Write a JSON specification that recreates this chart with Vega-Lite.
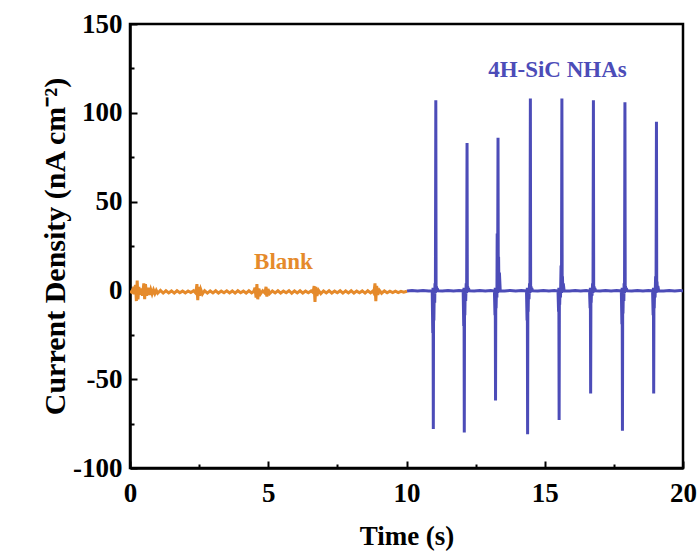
{
  "$schema": "https://vega.github.io/schema/vega-lite/v6.json",
  "width": 553,
  "height": 444,
  "autosize": {"type": "none"},
  "padding": {"left": 130, "top": 24, "right": 16, "bottom": 88},
  "background": "white",
  "config": {
    "view": {"stroke": "black", "strokeWidth": 2.5},
    "font": "Liberation Serif",
    "axis": {
      "labelFont": "Liberation Serif",
      "labelFontWeight": "bold",
      "labelFontSize": 27,
      "labelColor": "black",
      "titleFont": "Liberation Serif",
      "titleFontWeight": "bold",
      "titleFontSize": 27,
      "titleColor": "black",
      "tickColor": "black",
      "tickWidth": 2,
      "domainColor": "black",
      "domainWidth": 2.5,
      "grid": false,
      "labelFlush": false,
      "labelOverlap": false
    }
  },
  "datasets": {
    "lines": [
      {"t": 0.00, "v": -0.5, "s": "Blank"},
      {"t": 0.05, "v": -1, "s": "Blank"},
      {"t": 0.10, "v": 0.5, "s": "Blank"},
      {"t": 0.15, "v": -2, "s": "Blank"},
      {"t": 0.20, "v": 3, "s": "Blank"},
      {"t": 0.23, "v": -6, "s": "Blank"},
      {"t": 0.26, "v": 5.5, "s": "Blank"},
      {"t": 0.29, "v": -5, "s": "Blank"},
      {"t": 0.32, "v": 2, "s": "Blank"},
      {"t": 0.36, "v": -2.5, "s": "Blank"},
      {"t": 0.40, "v": 1, "s": "Blank"},
      {"t": 0.45, "v": -3, "s": "Blank"},
      {"t": 0.50, "v": 4, "s": "Blank"},
      {"t": 0.53, "v": -5, "s": "Blank"},
      {"t": 0.56, "v": 3.5, "s": "Blank"},
      {"t": 0.60, "v": -3, "s": "Blank"},
      {"t": 0.65, "v": 1.5, "s": "Blank"},
      {"t": 0.70, "v": -2.5, "s": "Blank"},
      {"t": 0.75, "v": 0.5, "s": "Blank"},
      {"t": 0.80, "v": -2, "s": "Blank"},
      {"t": 0.85, "v": 0.3, "s": "Blank"},
      {"t": 0.90, "v": -1.8, "s": "Blank"},
      {"t": 0.95, "v": 0, "s": "Blank"},
      {"t": 1.00, "v": -1.6, "s": "Blank"},
      {"t": 1.10, "v": 0, "s": "Blank"},
      {"t": 1.20, "v": -1.5, "s": "Blank"},
      {"t": 1.30, "v": -0.2, "s": "Blank"},
      {"t": 1.40, "v": -1.4, "s": "Blank"},
      {"t": 1.50, "v": -0.3, "s": "Blank"},
      {"t": 1.60, "v": -1.5, "s": "Blank"},
      {"t": 1.70, "v": -0.2, "s": "Blank"},
      {"t": 1.80, "v": -1.3, "s": "Blank"},
      {"t": 1.90, "v": -0.4, "s": "Blank"},
      {"t": 2.00, "v": -1.4, "s": "Blank"},
      {"t": 2.10, "v": -0.3, "s": "Blank"},
      {"t": 2.20, "v": -1.2, "s": "Blank"},
      {"t": 2.30, "v": -0.2, "s": "Blank"},
      {"t": 2.38, "v": -1.5, "s": "Blank"},
      {"t": 2.42, "v": 3.5, "s": "Blank"},
      {"t": 2.45, "v": -5.5, "s": "Blank"},
      {"t": 2.48, "v": 2, "s": "Blank"},
      {"t": 2.52, "v": -3, "s": "Blank"},
      {"t": 2.56, "v": 0.5, "s": "Blank"},
      {"t": 2.62, "v": -2, "s": "Blank"},
      {"t": 2.70, "v": -0.2, "s": "Blank"},
      {"t": 2.80, "v": -1.5, "s": "Blank"},
      {"t": 2.90, "v": -0.3, "s": "Blank"},
      {"t": 3.00, "v": -1.4, "s": "Blank"},
      {"t": 3.10, "v": -0.2, "s": "Blank"},
      {"t": 3.20, "v": -1.5, "s": "Blank"},
      {"t": 3.30, "v": -0.4, "s": "Blank"},
      {"t": 3.40, "v": -1.3, "s": "Blank"},
      {"t": 3.50, "v": -0.2, "s": "Blank"},
      {"t": 3.60, "v": -1.4, "s": "Blank"},
      {"t": 3.70, "v": -0.3, "s": "Blank"},
      {"t": 3.80, "v": -1.5, "s": "Blank"},
      {"t": 3.90, "v": -0.2, "s": "Blank"},
      {"t": 4.00, "v": -1.3, "s": "Blank"},
      {"t": 4.10, "v": -0.4, "s": "Blank"},
      {"t": 4.20, "v": -1.5, "s": "Blank"},
      {"t": 4.30, "v": -0.2, "s": "Blank"},
      {"t": 4.40, "v": -1.4, "s": "Blank"},
      {"t": 4.48, "v": -0.5, "s": "Blank"},
      {"t": 4.52, "v": 1.5, "s": "Blank"},
      {"t": 4.56, "v": -4, "s": "Blank"},
      {"t": 4.59, "v": 3.5, "s": "Blank"},
      {"t": 4.62, "v": -5, "s": "Blank"},
      {"t": 4.66, "v": 1, "s": "Blank"},
      {"t": 4.72, "v": -2, "s": "Blank"},
      {"t": 4.80, "v": -0.2, "s": "Blank"},
      {"t": 4.88, "v": -1.5, "s": "Blank"},
      {"t": 4.92, "v": 2, "s": "Blank"},
      {"t": 4.95, "v": -3.5, "s": "Blank"},
      {"t": 4.99, "v": 0.8, "s": "Blank"},
      {"t": 5.05, "v": -1.8, "s": "Blank"},
      {"t": 5.15, "v": -0.3, "s": "Blank"},
      {"t": 5.25, "v": -1.4, "s": "Blank"},
      {"t": 5.35, "v": -0.2, "s": "Blank"},
      {"t": 5.45, "v": -1.5, "s": "Blank"},
      {"t": 5.55, "v": -0.4, "s": "Blank"},
      {"t": 5.65, "v": -1.3, "s": "Blank"},
      {"t": 5.75, "v": -0.2, "s": "Blank"},
      {"t": 5.85, "v": -1.6, "s": "Blank"},
      {"t": 5.95, "v": -0.3, "s": "Blank"},
      {"t": 6.05, "v": -1.4, "s": "Blank"},
      {"t": 6.15, "v": -0.2, "s": "Blank"},
      {"t": 6.25, "v": -1.5, "s": "Blank"},
      {"t": 6.35, "v": -0.4, "s": "Blank"},
      {"t": 6.45, "v": -1.3, "s": "Blank"},
      {"t": 6.55, "v": -0.3, "s": "Blank"},
      {"t": 6.62, "v": -1.2, "s": "Blank"},
      {"t": 6.66, "v": 2.5, "s": "Blank"},
      {"t": 6.69, "v": -6.5, "s": "Blank"},
      {"t": 6.72, "v": 2, "s": "Blank"},
      {"t": 6.76, "v": -3, "s": "Blank"},
      {"t": 6.82, "v": 0, "s": "Blank"},
      {"t": 6.90, "v": -1.8, "s": "Blank"},
      {"t": 7.00, "v": -0.3, "s": "Blank"},
      {"t": 7.10, "v": -1.4, "s": "Blank"},
      {"t": 7.20, "v": -0.2, "s": "Blank"},
      {"t": 7.30, "v": -1.5, "s": "Blank"},
      {"t": 7.40, "v": -0.4, "s": "Blank"},
      {"t": 7.50, "v": -1.3, "s": "Blank"},
      {"t": 7.60, "v": -0.2, "s": "Blank"},
      {"t": 7.70, "v": -1.5, "s": "Blank"},
      {"t": 7.80, "v": -0.3, "s": "Blank"},
      {"t": 7.90, "v": -1.4, "s": "Blank"},
      {"t": 8.00, "v": -0.2, "s": "Blank"},
      {"t": 8.10, "v": -1.5, "s": "Blank"},
      {"t": 8.20, "v": -0.4, "s": "Blank"},
      {"t": 8.30, "v": -1.3, "s": "Blank"},
      {"t": 8.40, "v": -0.3, "s": "Blank"},
      {"t": 8.50, "v": -1.5, "s": "Blank"},
      {"t": 8.60, "v": -0.2, "s": "Blank"},
      {"t": 8.70, "v": -1.4, "s": "Blank"},
      {"t": 8.78, "v": -0.4, "s": "Blank"},
      {"t": 8.82, "v": -1.5, "s": "Blank"},
      {"t": 8.86, "v": 4, "s": "Blank"},
      {"t": 8.89, "v": -6, "s": "Blank"},
      {"t": 8.92, "v": 2.5, "s": "Blank"},
      {"t": 8.96, "v": -2.5, "s": "Blank"},
      {"t": 9.02, "v": 0, "s": "Blank"},
      {"t": 9.10, "v": -1.6, "s": "Blank"},
      {"t": 9.20, "v": -0.3, "s": "Blank"},
      {"t": 9.30, "v": -1.3, "s": "Blank"},
      {"t": 9.40, "v": -0.4, "s": "Blank"},
      {"t": 9.50, "v": -1.2, "s": "Blank"},
      {"t": 9.60, "v": -0.4, "s": "Blank"},
      {"t": 9.70, "v": -1.2, "s": "Blank"},
      {"t": 9.80, "v": -0.5, "s": "Blank"},
      {"t": 9.90, "v": -1.0, "s": "Blank"},
      {"t": 10.02, "v": -0.5, "s": "Blank"},

      {"t": 10.02, "v": -0.3, "s": "4H-SiC NHAs"},
      {"t": 10.2, "v": 0, "s": "4H-SiC NHAs"},
      {"t": 10.4, "v": -0.4, "s": "4H-SiC NHAs"},
      {"t": 10.6, "v": 0, "s": "4H-SiC NHAs"},
      {"t": 10.8, "v": -0.3, "s": "4H-SiC NHAs"},
      {"t": 10.93, "v": -0.3, "s": "4H-SiC NHAs"},
      {"t": 10.95, "v": -24, "s": "4H-SiC NHAs"},
      {"t": 10.96, "v": 1.5, "s": "4H-SiC NHAs"},
      {"t": 10.97, "v": -78, "s": "4H-SiC NHAs"},
      {"t": 10.98, "v": 1, "s": "4H-SiC NHAs"},
      {"t": 10.99, "v": -17, "s": "4H-SiC NHAs"},
      {"t": 11.005, "v": 1.5, "s": "4H-SiC NHAs"},
      {"t": 11.02, "v": -7, "s": "4H-SiC NHAs"},
      {"t": 11.03, "v": 4, "s": "4H-SiC NHAs"},
      {"t": 11.045, "v": -1.5, "s": "4H-SiC NHAs"},
      {"t": 11.06, "v": 107, "s": "4H-SiC NHAs"},
      {"t": 11.07, "v": -1, "s": "4H-SiC NHAs"},
      {"t": 11.08, "v": 2.4, "s": "4H-SiC NHAs"},
      {"t": 11.095, "v": -1, "s": "4H-SiC NHAs"},
      {"t": 11.11, "v": 1.2, "s": "4H-SiC NHAs"},
      {"t": 11.14, "v": -0.2, "s": "4H-SiC NHAs"},
      {"t": 11.3, "v": -0.3, "s": "4H-SiC NHAs"},
      {"t": 11.5, "v": 0, "s": "4H-SiC NHAs"},
      {"t": 11.7, "v": -0.4, "s": "4H-SiC NHAs"},
      {"t": 11.9, "v": 0, "s": "4H-SiC NHAs"},
      {"t": 12.05, "v": -0.3, "s": "4H-SiC NHAs"},
      {"t": 12.07, "v": -20, "s": "4H-SiC NHAs"},
      {"t": 12.08, "v": 1.5, "s": "4H-SiC NHAs"},
      {"t": 12.09, "v": -80, "s": "4H-SiC NHAs"},
      {"t": 12.10, "v": 1, "s": "4H-SiC NHAs"},
      {"t": 12.11, "v": -14, "s": "4H-SiC NHAs"},
      {"t": 12.125, "v": 1.5, "s": "4H-SiC NHAs"},
      {"t": 12.14, "v": -6, "s": "4H-SiC NHAs"},
      {"t": 12.16, "v": 4, "s": "4H-SiC NHAs"},
      {"t": 12.175, "v": -1.5, "s": "4H-SiC NHAs"},
      {"t": 12.19, "v": 83, "s": "4H-SiC NHAs"},
      {"t": 12.20, "v": -1, "s": "4H-SiC NHAs"},
      {"t": 12.21, "v": 2.4, "s": "4H-SiC NHAs"},
      {"t": 12.225, "v": -1, "s": "4H-SiC NHAs"},
      {"t": 12.24, "v": 1.2, "s": "4H-SiC NHAs"},
      {"t": 12.27, "v": -0.2, "s": "4H-SiC NHAs"},
      {"t": 12.45, "v": -0.3, "s": "4H-SiC NHAs"},
      {"t": 12.65, "v": 0, "s": "4H-SiC NHAs"},
      {"t": 12.85, "v": -0.4, "s": "4H-SiC NHAs"},
      {"t": 13.05, "v": 0, "s": "4H-SiC NHAs"},
      {"t": 13.18, "v": -0.3, "s": "4H-SiC NHAs"},
      {"t": 13.20, "v": -14, "s": "4H-SiC NHAs"},
      {"t": 13.21, "v": 1.5, "s": "4H-SiC NHAs"},
      {"t": 13.22, "v": -62, "s": "4H-SiC NHAs"},
      {"t": 13.23, "v": 1, "s": "4H-SiC NHAs"},
      {"t": 13.24, "v": -10, "s": "4H-SiC NHAs"},
      {"t": 13.255, "v": 1.5, "s": "4H-SiC NHAs"},
      {"t": 13.27, "v": -4, "s": "4H-SiC NHAs"},
      {"t": 13.28, "v": 32, "s": "4H-SiC NHAs"},
      {"t": 13.295, "v": -1.5, "s": "4H-SiC NHAs"},
      {"t": 13.31, "v": 86, "s": "4H-SiC NHAs"},
      {"t": 13.32, "v": -1, "s": "4H-SiC NHAs"},
      {"t": 13.33, "v": 19, "s": "4H-SiC NHAs"},
      {"t": 13.345, "v": -1, "s": "4H-SiC NHAs"},
      {"t": 13.36, "v": 10, "s": "4H-SiC NHAs"},
      {"t": 13.39, "v": -0.2, "s": "4H-SiC NHAs"},
      {"t": 13.55, "v": -0.3, "s": "4H-SiC NHAs"},
      {"t": 13.75, "v": 0, "s": "4H-SiC NHAs"},
      {"t": 13.95, "v": -0.4, "s": "4H-SiC NHAs"},
      {"t": 14.15, "v": 0, "s": "4H-SiC NHAs"},
      {"t": 14.34, "v": -0.3, "s": "4H-SiC NHAs"},
      {"t": 14.36, "v": -17, "s": "4H-SiC NHAs"},
      {"t": 14.37, "v": 1.5, "s": "4H-SiC NHAs"},
      {"t": 14.38, "v": -81, "s": "4H-SiC NHAs"},
      {"t": 14.39, "v": 1, "s": "4H-SiC NHAs"},
      {"t": 14.40, "v": -12, "s": "4H-SiC NHAs"},
      {"t": 14.415, "v": 1.5, "s": "4H-SiC NHAs"},
      {"t": 14.43, "v": -5, "s": "4H-SiC NHAs"},
      {"t": 14.45, "v": 4, "s": "4H-SiC NHAs"},
      {"t": 14.465, "v": -1.5, "s": "4H-SiC NHAs"},
      {"t": 14.48, "v": 108, "s": "4H-SiC NHAs"},
      {"t": 14.49, "v": -1, "s": "4H-SiC NHAs"},
      {"t": 14.50, "v": 2.4, "s": "4H-SiC NHAs"},
      {"t": 14.515, "v": -1, "s": "4H-SiC NHAs"},
      {"t": 14.53, "v": 1.2, "s": "4H-SiC NHAs"},
      {"t": 14.56, "v": -0.2, "s": "4H-SiC NHAs"},
      {"t": 14.75, "v": -0.3, "s": "4H-SiC NHAs"},
      {"t": 14.95, "v": 0, "s": "4H-SiC NHAs"},
      {"t": 15.15, "v": -0.4, "s": "4H-SiC NHAs"},
      {"t": 15.35, "v": 0, "s": "4H-SiC NHAs"},
      {"t": 15.48, "v": -0.3, "s": "4H-SiC NHAs"},
      {"t": 15.50, "v": -12, "s": "4H-SiC NHAs"},
      {"t": 15.51, "v": 1.5, "s": "4H-SiC NHAs"},
      {"t": 15.52, "v": -73, "s": "4H-SiC NHAs"},
      {"t": 15.53, "v": 1, "s": "4H-SiC NHAs"},
      {"t": 15.54, "v": -8, "s": "4H-SiC NHAs"},
      {"t": 15.555, "v": 1.5, "s": "4H-SiC NHAs"},
      {"t": 15.57, "v": -4, "s": "4H-SiC NHAs"},
      {"t": 15.59, "v": 14, "s": "4H-SiC NHAs"},
      {"t": 15.605, "v": -1.5, "s": "4H-SiC NHAs"},
      {"t": 15.62, "v": 108, "s": "4H-SiC NHAs"},
      {"t": 15.63, "v": -1, "s": "4H-SiC NHAs"},
      {"t": 15.64, "v": 8, "s": "4H-SiC NHAs"},
      {"t": 15.655, "v": -1, "s": "4H-SiC NHAs"},
      {"t": 15.67, "v": 4, "s": "4H-SiC NHAs"},
      {"t": 15.70, "v": -0.2, "s": "4H-SiC NHAs"},
      {"t": 15.9, "v": -0.3, "s": "4H-SiC NHAs"},
      {"t": 16.1, "v": 0, "s": "4H-SiC NHAs"},
      {"t": 16.3, "v": -0.4, "s": "4H-SiC NHAs"},
      {"t": 16.5, "v": 0, "s": "4H-SiC NHAs"},
      {"t": 16.62, "v": -0.3, "s": "4H-SiC NHAs"},
      {"t": 16.64, "v": -10, "s": "4H-SiC NHAs"},
      {"t": 16.65, "v": 1.5, "s": "4H-SiC NHAs"},
      {"t": 16.66, "v": -58, "s": "4H-SiC NHAs"},
      {"t": 16.67, "v": 1, "s": "4H-SiC NHAs"},
      {"t": 16.68, "v": -7, "s": "4H-SiC NHAs"},
      {"t": 16.695, "v": 1.5, "s": "4H-SiC NHAs"},
      {"t": 16.71, "v": -3, "s": "4H-SiC NHAs"},
      {"t": 16.73, "v": 4, "s": "4H-SiC NHAs"},
      {"t": 16.745, "v": -1.5, "s": "4H-SiC NHAs"},
      {"t": 16.76, "v": 107, "s": "4H-SiC NHAs"},
      {"t": 16.77, "v": -1, "s": "4H-SiC NHAs"},
      {"t": 16.78, "v": 2.4, "s": "4H-SiC NHAs"},
      {"t": 16.795, "v": -1, "s": "4H-SiC NHAs"},
      {"t": 16.81, "v": 1.2, "s": "4H-SiC NHAs"},
      {"t": 16.84, "v": -0.2, "s": "4H-SiC NHAs"},
      {"t": 17.0, "v": -0.3, "s": "4H-SiC NHAs"},
      {"t": 17.2, "v": 0, "s": "4H-SiC NHAs"},
      {"t": 17.4, "v": -0.4, "s": "4H-SiC NHAs"},
      {"t": 17.6, "v": 0, "s": "4H-SiC NHAs"},
      {"t": 17.77, "v": -0.3, "s": "4H-SiC NHAs"},
      {"t": 17.79, "v": -19, "s": "4H-SiC NHAs"},
      {"t": 17.80, "v": 1.5, "s": "4H-SiC NHAs"},
      {"t": 17.81, "v": -79, "s": "4H-SiC NHAs"},
      {"t": 17.82, "v": 1, "s": "4H-SiC NHAs"},
      {"t": 17.83, "v": -13, "s": "4H-SiC NHAs"},
      {"t": 17.845, "v": 1.5, "s": "4H-SiC NHAs"},
      {"t": 17.86, "v": -6, "s": "4H-SiC NHAs"},
      {"t": 17.87, "v": 4, "s": "4H-SiC NHAs"},
      {"t": 17.885, "v": -1.5, "s": "4H-SiC NHAs"},
      {"t": 17.90, "v": 106, "s": "4H-SiC NHAs"},
      {"t": 17.91, "v": -1, "s": "4H-SiC NHAs"},
      {"t": 17.92, "v": 2.4, "s": "4H-SiC NHAs"},
      {"t": 17.935, "v": -1, "s": "4H-SiC NHAs"},
      {"t": 17.95, "v": 1.2, "s": "4H-SiC NHAs"},
      {"t": 17.98, "v": -0.2, "s": "4H-SiC NHAs"},
      {"t": 18.15, "v": -0.3, "s": "4H-SiC NHAs"},
      {"t": 18.35, "v": 0, "s": "4H-SiC NHAs"},
      {"t": 18.55, "v": -0.4, "s": "4H-SiC NHAs"},
      {"t": 18.75, "v": 0, "s": "4H-SiC NHAs"},
      {"t": 18.90, "v": -0.3, "s": "4H-SiC NHAs"},
      {"t": 18.92, "v": -14, "s": "4H-SiC NHAs"},
      {"t": 18.93, "v": 1.5, "s": "4H-SiC NHAs"},
      {"t": 18.94, "v": -58, "s": "4H-SiC NHAs"},
      {"t": 18.95, "v": 1, "s": "4H-SiC NHAs"},
      {"t": 18.96, "v": -10, "s": "4H-SiC NHAs"},
      {"t": 18.975, "v": 1.5, "s": "4H-SiC NHAs"},
      {"t": 18.99, "v": -4, "s": "4H-SiC NHAs"},
      {"t": 19.01, "v": 8, "s": "4H-SiC NHAs"},
      {"t": 19.025, "v": -1.5, "s": "4H-SiC NHAs"},
      {"t": 19.04, "v": 95, "s": "4H-SiC NHAs"},
      {"t": 19.05, "v": -1, "s": "4H-SiC NHAs"},
      {"t": 19.06, "v": 5, "s": "4H-SiC NHAs"},
      {"t": 19.075, "v": -1, "s": "4H-SiC NHAs"},
      {"t": 19.09, "v": 2.5, "s": "4H-SiC NHAs"},
      {"t": 19.12, "v": -0.2, "s": "4H-SiC NHAs"},
      {"t": 19.3, "v": -0.3, "s": "4H-SiC NHAs"},
      {"t": 19.5, "v": 0, "s": "4H-SiC NHAs"},
      {"t": 19.7, "v": -0.4, "s": "4H-SiC NHAs"},
      {"t": 19.9, "v": 0, "s": "4H-SiC NHAs"},
      {"t": 20.0, "v": -0.3, "s": "4H-SiC NHAs"}
    ],
    "labels": [
      {"t": 5.55, "v": 11.9, "label": "Blank", "s": "Blank"},
      {"t": 15.46, "v": 120.2, "label": "4H-SiC NHAs", "s": "4H-SiC NHAs"}
    ]
  },
  "layer": [
    {
      "data": {"name": "lines"},
      "mark": {"type": "line", "strokeWidth": 3, "clip": true},
      "encoding": {
        "x": {
          "field": "t",
          "type": "quantitative",
          "scale": {"domain": [0, 20], "nice": false, "zero": false},
          "axis": {
            "title": "Time (s)",
            "values": [0, 2.5, 5, 7.5, 10, 12.5, 15, 17.5, 20],
            "labelExpr": "datum.value % 5 === 0 ? '' + datum.value : ''",
            "tickSize": {"condition": {"test": "datum.value % 5 === 0", "value": -7}, "value": -4},
            "labelPadding": 19,
            "titlePadding": 14
          }
        },
        "y": {
          "field": "v",
          "type": "quantitative",
          "scale": {"domain": [-100, 150], "nice": false, "zero": false},
          "axis": {
            "title": "Current Density (nA cm⁻²)",
            "titleFontSize": 30,
            "values": [-100, -75, -50, -25, 0, 25, 50, 75, 100, 125, 150],
            "labelExpr": "datum.value % 50 === 0 ? '' + datum.value : ''",
            "tickSize": {"condition": {"test": "datum.value % 50 === 0", "value": -7}, "value": -4},
            "labelPadding": 15,
            "titlePadding": 2
          }
        },
        "color": {
          "field": "s",
          "type": "nominal",
          "scale": {"domain": ["Blank", "4H-SiC NHAs"], "range": ["#e58a2b", "#4c4cb8"]},
          "legend": null
        }
      }
    },
    {
      "data": {"name": "labels"},
      "mark": {"type": "text", "font": "Liberation Serif", "fontWeight": "bold", "fontSize": 23, "align": "center", "baseline": "alphabetic"},
      "encoding": {
        "x": {"field": "t", "type": "quantitative"},
        "y": {"field": "v", "type": "quantitative"},
        "text": {"field": "label"},
        "color": {"field": "s", "type": "nominal", "legend": null}
      }
    }
  ]
}
